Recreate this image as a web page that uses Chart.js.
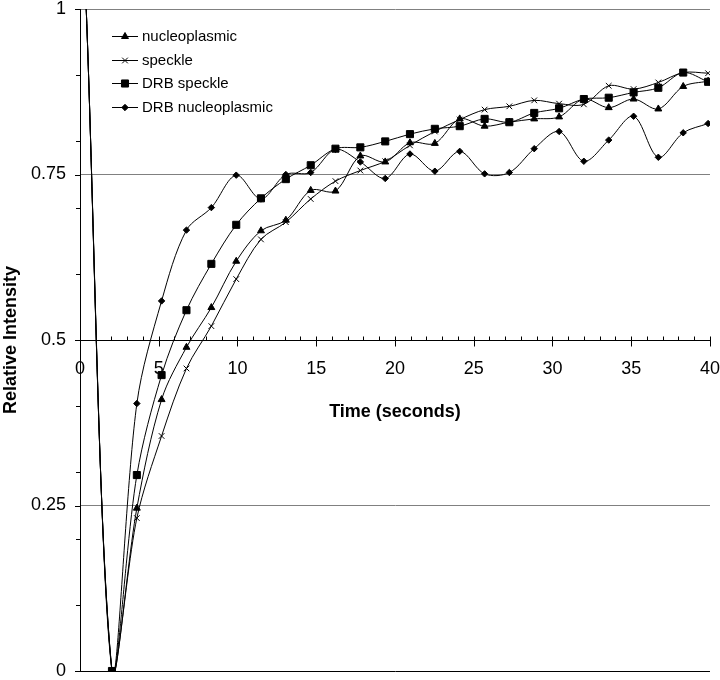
<!DOCTYPE html>
<html><head><meta charset="utf-8">
<script src="https://cdn.jsdelivr.net/npm/chart.js@4/dist/chart.umd.min.js"></script>
<style>html,body{margin:0;padding:0;background:#fff;overflow:hidden}canvas{display:block}</style>
</head><body>
<canvas id="c" width="720" height="680"></canvas>
<script>
// ---- data ----
const timeSeconds = [0.38, 2.03, 3.61, 5.18, 6.76, 8.34, 9.92, 11.49, 13.07, 14.65, 16.22, 17.80, 19.38,
  20.95, 22.53, 24.11, 25.69, 27.26, 28.84, 30.42, 31.99, 33.57, 35.15, 36.72, 38.30, 39.88];
const nucleoplasmic = [1.01, 0, 0.246, 0.410, 0.489, 0.549, 0.619, 0.665, 0.681, 0.726, 0.725, 0.778, 0.769,
  0.798, 0.797, 0.834, 0.823, 0.829, 0.834, 0.837, 0.864, 0.851, 0.864, 0.849, 0.883, 0.891];
const speckle = [1.01, 0, 0.231, 0.355, 0.457, 0.521, 0.592, 0.652, 0.678, 0.713, 0.740, 0.756, 0.770,
  0.794, 0.815, 0.833, 0.848, 0.853, 0.862, 0.857, 0.856, 0.884, 0.879, 0.889, 0.904, 0.903];
const drbSpeckle = [1.01, 0, 0.296, 0.447, 0.545, 0.615, 0.674, 0.714, 0.743, 0.764, 0.789, 0.791, 0.800,
  0.811, 0.819, 0.823, 0.834, 0.829, 0.843, 0.850, 0.864, 0.866, 0.874, 0.881, 0.904, 0.890];
const drbNucleoplasmic = [1.01, 0, 0.404, 0.559, 0.666, 0.700, 0.749, 0.713, 0.750, 0.753, 0.788, 0.769, 0.744,
  0.781, 0.755, 0.785, 0.751, 0.753, 0.789, 0.815, 0.770, 0.802, 0.838, 0.776, 0.813, 0.827];
const seriesNames = ['nucleoplasmic', 'speckle', 'DRB speckle', 'DRB nucleoplasmic'];
const xTickValues = [0, 5, 10, 15, 20, 25, 30, 35, 40];
const yTickValues = [0, 0.25, 0.5, 0.75, 1];
const yTickLabels = ['0', '0.25', '0.5', '0.75', '1'];
const xTitle = 'Time (seconds)';
const yTitle = 'Relative Intensity';

// ---- styling ----
const FONT = "'Liberation Sans', Arial, Helvetica, sans-serif";
const markerStyles = [
  {pointStyle: 'triangle', radius: 4},
  {pointStyle: 'crossRot', radius: 4},
  {pointStyle: 'rect', radius: 5},
  {pointStyle: 'rectRot', radius: 3.2}
];
const seriesValues = [nucleoplasmic, speckle, drbSpeckle, drbNucleoplasmic];

const datasets = seriesValues.map((vals, k) => ({
  label: seriesNames[k],
  data: timeSeconds.map((t, i) => ({x: t, y: vals[i]})),
  borderColor: '#000',
  borderWidth: 1,
  backgroundColor: '#000',
  pointStyle: markerStyles[k].pointStyle,
  pointRadius: markerStyles[k].radius,
  pointHoverRadius: markerStyles[k].radius,
  pointBackgroundColor: '#000',
  pointBorderColor: '#000',
  pointBorderWidth: 1,
  tension: 0.33,
  fill: false
}));

const al = v => Math.round(v) + 0.5;

const extras = {
  id: 'extras',
  afterDatasetsDraw(chart) {
    const ctx = chart.ctx, xs = chart.scales.x, ys = chart.scales.y, a = chart.chartArea;
    ctx.save();
    ctx.strokeStyle = '#000';
    ctx.lineWidth = 1;
    // x-axis tick marks (minor every 1 s, major every 5 s)
    const ay = al(ys.getPixelForValue(0.5));
    ctx.beginPath();
    for (let t = 0; t <= 40; t++) {
      const px = al(xs.getPixelForValue(t));
      if (t % 5 === 0) { ctx.moveTo(px, ay - 4); ctx.lineTo(px, ay + 6); }
      else { ctx.moveTo(px, ay - 4); ctx.lineTo(px, ay); }
    }
    // y-axis tick marks: major every 0.25, minor every 0.1
    yTickValues.forEach(v => {
      const py = al(ys.getPixelForValue(v));
      ctx.moveTo(a.left - 5, py); ctx.lineTo(a.left, py);
    });
    for (let k = 1; k < 10; k++) {
      const py = al(ys.getPixelForValue(k / 10));
      ctx.moveTo(a.left - 4, py); ctx.lineTo(a.left, py);
    }
    ctx.stroke();

    // legend inside plot area
    ctx.font = '15px ' + FONT;
    ctx.textBaseline = 'middle';
    ctx.textAlign = 'left';
    chart.data.datasets.forEach((ds, k) => {
      const y = Math.round(a.top + 27 + k * 23.6) + 0.5;
      const x0 = a.left + 32, x1 = a.left + 58;
      ctx.strokeStyle = '#000'; ctx.fillStyle = '#000'; ctx.lineWidth = 1;
      ctx.beginPath(); ctx.moveTo(x0, y); ctx.lineTo(x1, y); ctx.stroke();
      Chart.helpers.drawPoint(ctx, {pointStyle: ds.pointStyle, radius: ds.pointRadius, rotation: 0, borderWidth: 1}, (x0 + x1) / 2, y);
      ctx.fillStyle = '#000';
      ctx.fillText(ds.label, a.left + 62, y);
    });
    ctx.restore();
  }
};

new Chart(document.getElementById('c'), {
  type: 'line',
  data: {datasets},
  options: {
    responsive: false,
    animation: false,
    devicePixelRatio: 1,
    layout: {padding: {top: 9, right: 10, bottom: 8, left: 0}},
    elements: {line: {capBezierPoints: false}},
    plugins: {legend: {display: false}, tooltip: {enabled: false}},
    scales: {
      x: {
        type: 'linear',
        min: 0, max: 40,
        position: {y: 0.5},
        afterBuildTicks: s => { s.ticks = xTickValues.map(v => ({value: v})); },
        grid: {display: true, drawOnChartArea: false, drawTicks: true, tickLength: 18, tickColor: 'rgba(0,0,0,0)'},
        border: {display: true, color: '#000', width: 1},
        ticks: {font: {family: FONT, size: 18}, color: '#000', padding: 0, maxRotation: 0, autoSkip: false,
          callback: v => String(v)},
        title: {display: true, text: xTitle, color: '#000', font: {family: FONT, size: 18, weight: 'bold'},
          padding: {top: 22, bottom: 0}}
      },
      y: {
        type: 'linear',
        min: 0, max: 1,
        position: 'left',
        afterFit: s => { s.width = 80; },
        afterBuildTicks: s => { s.ticks = yTickValues.map(v => ({value: v})); },
        grid: {color: c => (c.tick && c.tick.value === 0) ? '#000' : '#808080', tickColor: 'rgba(0,0,0,0)', tickLength: 14, lineWidth: 1},
        border: {display: true, color: '#000', width: 1},
        ticks: {font: {family: FONT, size: 18, lineHeight: 1}, color: '#000', padding: 0,
          callback: v => yTickLabels[yTickValues.indexOf(v)]},
        title: {display: true, text: yTitle, color: '#000', font: {family: FONT, size: 18, weight: 'bold'},
          padding: {top: 0, bottom: 0}}
      }
    }
  },
  plugins: [extras]
});
</script>
</body></html>
